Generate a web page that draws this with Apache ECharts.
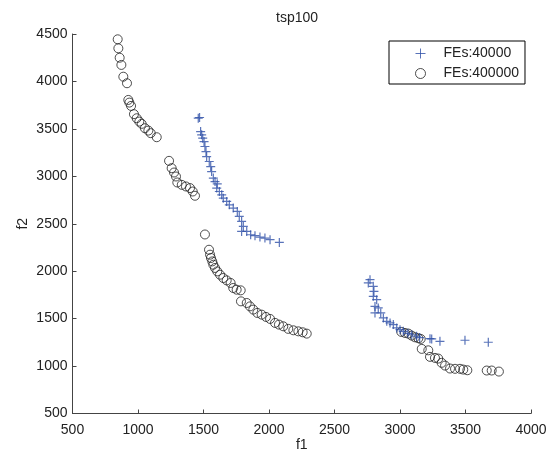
<!DOCTYPE html>
<html>
<head>
<meta charset="utf-8">
<script src="https://cdn.jsdelivr.net/npm/echarts@6/dist/echarts.min.js"></script>
<style>
html,body{margin:0;padding:0;background:#fff;}
#chart{width:551px;height:453px;}
</style>
</head>
<body>
<div id="chart"></div>
<script>
// ---- Data ----
var titleText = 'tsp100';
var seriesNames = ['FEs:40000', 'FEs:400000'];
var xTicks = [500, 1000, 1500, 2000, 2500, 3000, 3500, 4000];
var yTicks = [500, 1000, 1500, 2000, 2500, 3000, 3500, 4000, 4500];

// FEs:40000 (plus markers)
var fes40000_f1 = [1460,1470,1478,1486,1494,1504,1511,1519,1524,1544,1555,1562,1575,1588,1605,1601,1621,1639,1651,1677,1697,1727,1758,1773,1791,1804,1791,1830,1860,1893,1931,1969,2008,2079,
                   2771,2758,2796,2801,2796,2822,2809,2834,2809,2853,2873,2899,2924,2949,2975,3000,3025,3060,3090,3127,3150,3229,3242,3305,3496,3674];
var fes40000_f2 = [3613,3620,3472,3437,3402,3366,3314,3261,3208,3156,3103,3050,2981,2945,2921,2876,2840,2805,2770,2735,2700,2665,2630,2577,2524,2472,2419,2419,2384,2374,2360,2349,2332,2303,
                   1911,1876,1840,1787,1735,1700,1629,1613,1560,1560,1507,1472,1455,1437,1402,1384,1366,1345,1330,1314,1300,1289,1286,1261,1272,1251];

// FEs:400000 (circle markers)
var fes400000_f1 = [845,850,860,873,888,916,926,934,947,969,990,1010,1028,1053,1079,1097,1143,
                    1237,1257,1275,1290,1300,1334,1366,1397,1418,1435,
                    1511,1542,1550,1557,1567,1575,1588,1605,1626,1651,1677,1707,1727,1753,1784,1786,1830,1855,1880,1911,1944,1977,2008,2046,2076,2109,2147,2186,2224,2257,2288,
                    3010,3038,3064,3089,3115,3140,3158,3166,3216,3229,3267,3292,3318,3344,3382,3420,3458,3483,3514,3662,3700,3755];
var fes400000_f2 = [4444,4349,4250,4174,4050,3981,3805,3777,3742,3655,3612,3577,3553,3507,3482,3455,3412,
                    3163,3086,3040,2998,2935,2910,2893,2876,2840,2795,
                    2387,2226,2174,2139,2103,2068,2034,1998,1963,1928,1903,1876,1823,1805,1798,1682,1665,1629,1595,1560,1542,1518,1497,1455,1437,1419,1392,1377,1366,1356,1342,
                    1360,1349,1342,1321,1303,1293,1286,1181,1166,1097,1086,1079,1034,1005,974,971,971,963,956,953,953,942];

function zip(a, b) { var r = []; for (var i = 0; i < a.length; i++) r.push([a[i], b[i]]); return r; }

var FONT = '"Liberation Sans", Arial, Helvetica, sans-serif';
var axisColor = '#444';
var textColor = '#222';
var plusPath = 'path://M0,5L10,5M5,0L5,10';
var plainNum = function (v) { return String(v); };

var chart = echarts.init(document.getElementById('chart'), null, {renderer: 'canvas'});
chart.setOption({
  animation: false,
  backgroundColor: '#fff',
  title: {
    text: titleText, left: 271, top: 6,
    textStyle: {fontFamily: FONT, fontSize: 14, fontWeight: 'normal', color: textColor}
  },
  legend: {
    orient: 'vertical', left: 389, top: 41,
    padding: [5, 6, 3, 24],
    itemWidth: 36, itemHeight: 10, itemGap: 5,
    borderColor: '#000', borderWidth: 1, backgroundColor: '#fff',
    itemStyle: {borderWidth: 1},
    textStyle: {fontFamily: FONT, fontSize: 14, lineHeight: 14, color: textColor},
    data: seriesNames
  },
  grid: {left: 72.5, right: 20, top: 34, bottom: 39.5, containLabel: false, outerBoundsMode: 'none'},
  xAxis: {
    type: 'value', min: xTicks[0], max: xTicks[xTicks.length - 1], interval: 500,
    name: 'f1', nameLocation: 'middle', nameGap: 25, nameMoveOverlap: false,
    nameTextStyle: {fontFamily: FONT, fontSize: 14, color: textColor},
    axisLine: {show: true, lineStyle: {color: axisColor, width: 1}},
    axisTick: {show: true, inside: true, length: 4, lineStyle: {color: axisColor}},
    axisLabel: {fontFamily: FONT, fontSize: 14, color: textColor, margin: 10, formatter: plainNum},
    splitLine: {show: false}
  },
  yAxis: {
    type: 'value', min: yTicks[0], max: yTicks[yTicks.length - 1], interval: 500,
    name: 'f2', nameLocation: 'middle', nameGap: 42, nameRotate: 90, nameMoveOverlap: false,
    nameTextStyle: {fontFamily: FONT, fontSize: 14, color: textColor},
    axisLine: {show: true, lineStyle: {color: axisColor, width: 1}},
    axisTick: {show: true, inside: true, length: 4, lineStyle: {color: axisColor}},
    axisLabel: {fontFamily: FONT, fontSize: 14, color: textColor, margin: 5, formatter: plainNum},
    splitLine: {show: false}
  },
  series: [
    {
      name: seriesNames[0], type: 'scatter', symbol: plusPath, symbolSize: 9,
      itemStyle: {color: 'none', borderColor: '#3050a8', borderWidth: 1.2},
      data: zip(fes40000_f1, fes40000_f2), z: 3
    },
    {
      name: seriesNames[1], type: 'scatter', symbol: 'circle', symbolSize: 9,
      itemStyle: {color: 'none', borderColor: '#222', borderWidth: 1},
      data: zip(fes400000_f1, fes400000_f2), z: 2
    }
  ]
});
</script>
</body>
</html>
